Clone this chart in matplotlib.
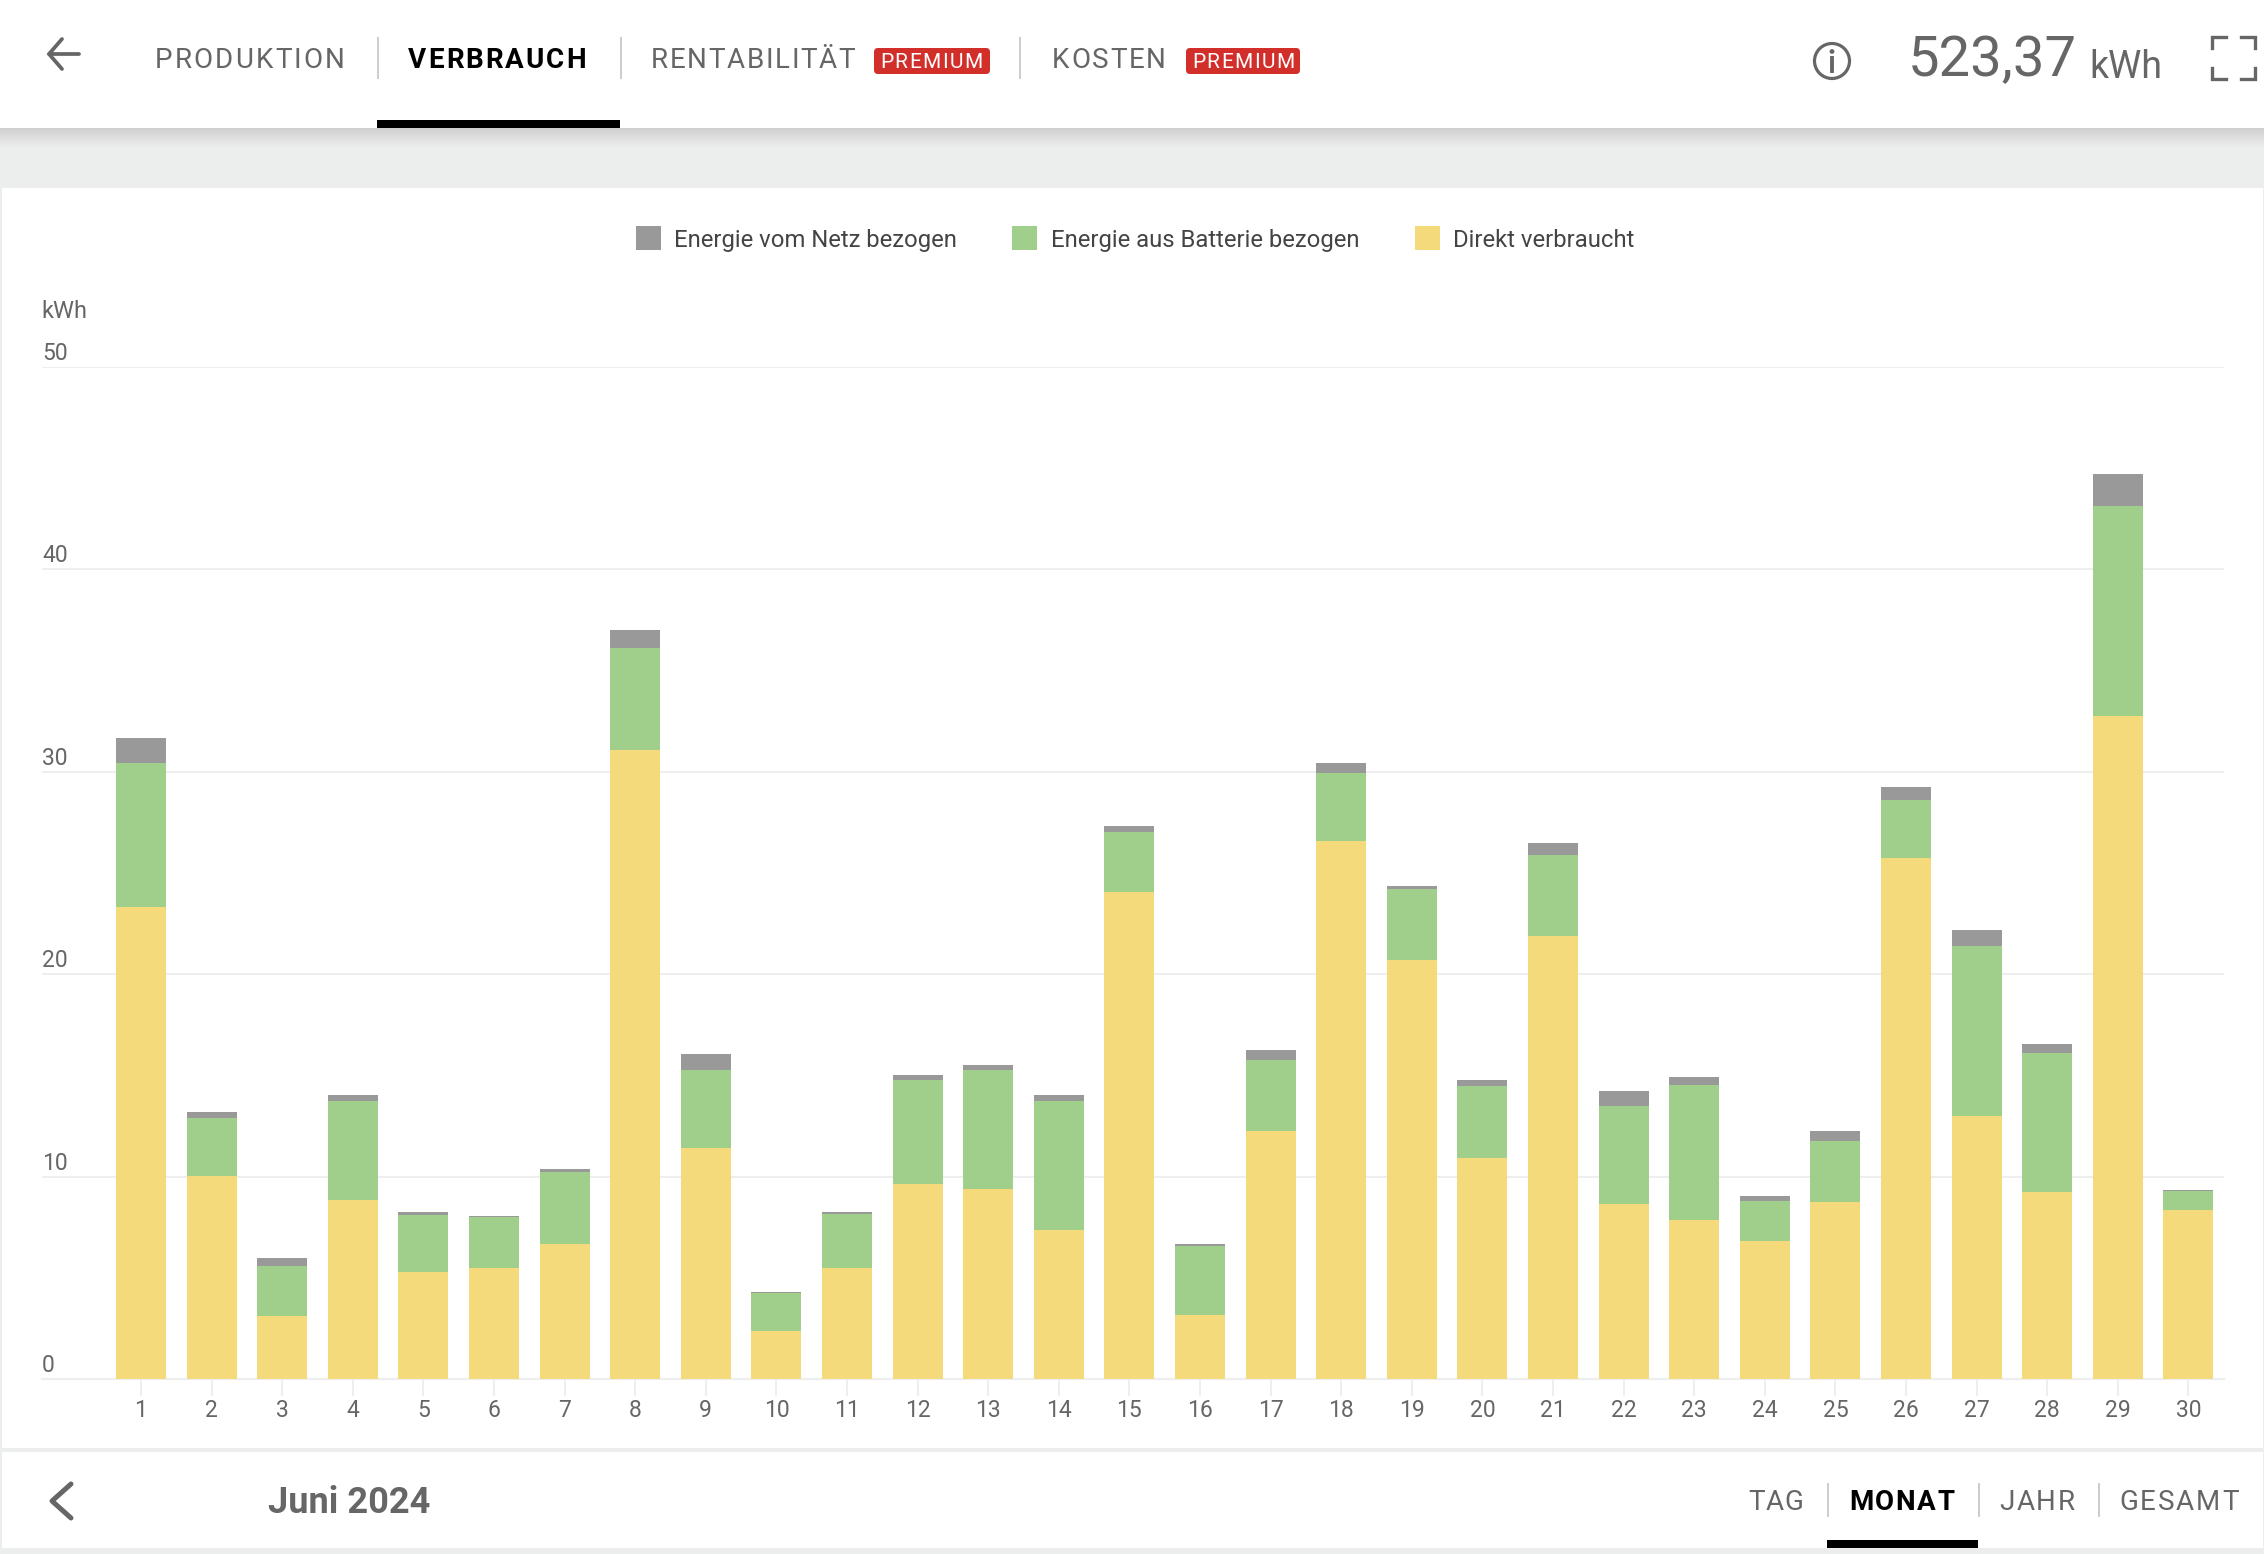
import matplotlib
matplotlib.use("Agg")
import matplotlib.pyplot as plt
import numpy as np
from matplotlib.patches import Rectangle, FancyBboxPatch, Circle

plt.rcParams["font.family"] = ["Roboto", "DejaVu Sans"]

W, H = 2264, 1554
GREY = "#666666"
LINE = "#eeeeee"

# chart values, kWh per day
days = list(range(1, 31))
direct = [23.3, 10.05, 3.1, 8.85, 5.3, 5.5, 6.65, 31.1, 11.4, 2.35,
          5.5, 9.65, 9.4, 7.35, 24.05, 3.15, 12.25, 26.6, 20.7, 10.9,
          21.9, 8.65, 7.85, 6.8, 8.75, 25.75, 13.0, 9.25, 32.75, 8.35]
battery = [7.15, 2.85, 2.5, 4.9, 2.8, 2.5, 3.6, 5.0, 3.85, 1.9,
           2.65, 5.1, 5.85, 6.4, 3.0, 3.4, 3.5, 3.35, 3.5, 3.6,
           4.0, 4.85, 6.7, 2.0, 3.0, 2.85, 8.4, 6.85, 10.4, 0.95]
grid = [1.2, 0.3, 0.4, 0.3, 0.15, 0.05, 0.15, 0.9, 0.8, 0.05,
        0.1, 0.25, 0.25, 0.3, 0.25, 0.1, 0.5, 0.5, 0.15, 0.25,
        0.6, 0.75, 0.35, 0.25, 0.5, 0.65, 0.8, 0.45, 1.55, 0.02]
y_ticks = [0, 10, 20, 30, 40, 50]

legend_labels = ["Energie vom Netz bezogen", "Energie aus Batterie bezogen", "Direkt verbraucht"]
colors = ["#999999", "#a0ce8b", "#f4da7a"]


def spaced_text(ax, x, y, s, size, spacing, color=GREY, weight="normal"):
    # matplotlib has no letter spacing, so place the string char by char
    renderer = ax.figure.canvas.get_renderer()
    for i, ch in enumerate(s):
        t = ax.text(x, y, s[:i] if i else "", fontsize=size, weight=weight)
        offset = t.get_window_extent(renderer).width if i else 0
        t.remove()
        ax.text(x + offset + spacing * i, y, ch, fontsize=size, color=color, weight=weight,
                ha="left", va="center_baseline")


fig = plt.figure(figsize=(W / 100, H / 100), dpi=100, facecolor="#eceeed")

# page chrome, in pixel coordinates
bg = fig.add_axes([0, 0, 1, 1])
bg.set_xlim(0, W)
bg.set_ylim(H, 0)
bg.axis("off")

bg.add_patch(Rectangle((0, 0), W, 128, color="white", lw=0))
shadow = np.linspace(0, 1, 20).reshape(-1, 1)
bg.imshow(shadow, extent=(0, W, 148, 128), cmap=matplotlib.colors.LinearSegmentedColormap.from_list("s", ["#d0d0d0", "#eceeed"]),
          aspect="auto", zorder=1)
bg.set_xlim(0, W)
bg.set_ylim(H, 0)
bg.add_patch(Rectangle((2, 188), W - 3, 1260, color="white", lw=0))
bg.add_patch(Rectangle((2, 1452), W - 3, 96, color="white", lw=0))

# header
bg.plot([79, 49, 62], [54, 54, 39], color=GREY, lw=2.7, solid_capstyle="round", solid_joinstyle="round")
bg.plot([49, 62], [54, 69], color=GREY, lw=2.7, solid_capstyle="round")
spaced_text(bg, 155, 58, "PRODUKTION", 20, 2.1)
spaced_text(bg, 408, 58, "VERBRAUCH", 20, 2.0, color="black", weight="bold")
spaced_text(bg, 651, 58, "RENTABILITÄT", 20, 1.6)
spaced_text(bg, 1052, 58, "KOSTEN", 20, 1.7)
for x in [378, 620.5, 1020]:
    bg.plot([x, x], [38, 78], color="#cccccc", lw=1.4)
bg.add_patch(Rectangle((377, 120), 243, 8, color="black", lw=0))
for x0, x1 in [(874, 990), (1186, 1300)]:
    bg.add_patch(FancyBboxPatch((x0 + 4, 52), x1 - x0 - 8, 18, boxstyle="round,pad=4", color="#d32f2a", lw=0))
    spaced_text(bg, x0 + 6, 61, "PREMIUM", 15, 1.5, color="white")

bg.add_patch(Circle((1832, 61), 17.5, fill=False, ec=GREY, lw=2.3))
bg.add_patch(Circle((1832, 51.5), 2.4, color=GREY, lw=0))
bg.plot([1832, 1832], [58, 71], color=GREY, lw=2.8)
bg.text(1908, 76, "523,37", fontsize=40.5, color=GREY, ha="left", va="baseline")
bg.text(2089, 78, "kWh", fontsize=27, color=GREY, ha="left", va="baseline")
for xs, ys in [([2212, 2212, 2226], [48, 37, 37]), ([2241, 2255, 2255], [37, 37, 48]),
               ([2212, 2212, 2226], [68, 79, 79]), ([2241, 2255, 2255], [79, 79, 68])]:
    bg.plot(xs, ys, color=GREY, lw=2.4, solid_joinstyle="miter")

# legend
for x, tx, label, c in zip([636, 1012, 1415], [674, 1051, 1453], legend_labels, colors):
    bg.add_patch(Rectangle((x, 226), 25, 24, color=c, lw=0))
    bg.text(tx, 247, label, fontsize=17.2, color="#444444", ha="left", va="baseline")
bg.text(41, 309, "kWh", fontsize=17, color=GREY, ha="left", va="center_baseline")

# footer
bg.plot([71, 52, 71], [1484, 1501, 1518], color=GREY, lw=3.6, solid_capstyle="round", solid_joinstyle="round")
bg.text(268.5, 1499, "Juni 2024", fontsize=26, weight="bold", color=GREY, ha="left", va="center_baseline")
spaced_text(bg, 1748, 1500, "TAG", 20, 1.0)
spaced_text(bg, 1849, 1500, "MONAT", 20, 1.6, color="black", weight="bold")
spaced_text(bg, 1999, 1500, "JAHR", 20, 1.8)
spaced_text(bg, 2119, 1500, "GESAMT", 20, 2.0)
for x in [1828, 1979, 2099]:
    bg.plot([x, x], [1484, 1516], color="#cccccc", lw=1.4)
bg.add_patch(Rectangle((1827, 1540), 151, 8, color="black", lw=0))

# the chart itself: axes spans px 42..2224 and 367..1379
ax = fig.add_axes([42 / W, 1 - 1379 / H, (2224 - 42) / W, (1379 - 367) / H])
ax.patch.set_alpha(0)
direct_a, battery_a, grid_a = np.array(direct), np.array(battery), np.array(grid)
ax.bar(days, direct_a, width=0.71, color=colors[2], zorder=3)
ax.bar(days, battery_a, width=0.71, bottom=direct_a, color=colors[1], zorder=3)
ax.bar(days, grid_a, width=0.71, bottom=direct_a + battery_a, color=colors[0], zorder=3)

ax.set_xlim(1 - 99 / 70.6, 30 + 35.6 / 70.6)
ax.set_ylim(0, 50)
ax.set_xticks(days)
ax.set_yticks(y_ticks)
ax.set_yticklabels([])
ax.tick_params(axis="y", length=0)
ax.tick_params(axis="x", length=12.2, width=1.4, color=LINE, labelsize=16.5, labelcolor=GREY, pad=2.5)
ax.grid(axis="y", color=LINE, lw=1.4, zorder=0)
for side in ["top", "right", "left"]:
    ax.spines[side].set_visible(False)
ax.spines["bottom"].set_color(LINE)
ax.spines["bottom"].set_linewidth(1.6)
for v in y_ticks:
    ax.annotate(str(v), (0, v), xycoords=("axes fraction", "data"), xytext=(0, 1.5), textcoords="offset points",
                fontsize=16.5, color=GREY, ha="left", va="bottom")

fig.savefig("out.png", dpi=100, facecolor=fig.get_facecolor())
